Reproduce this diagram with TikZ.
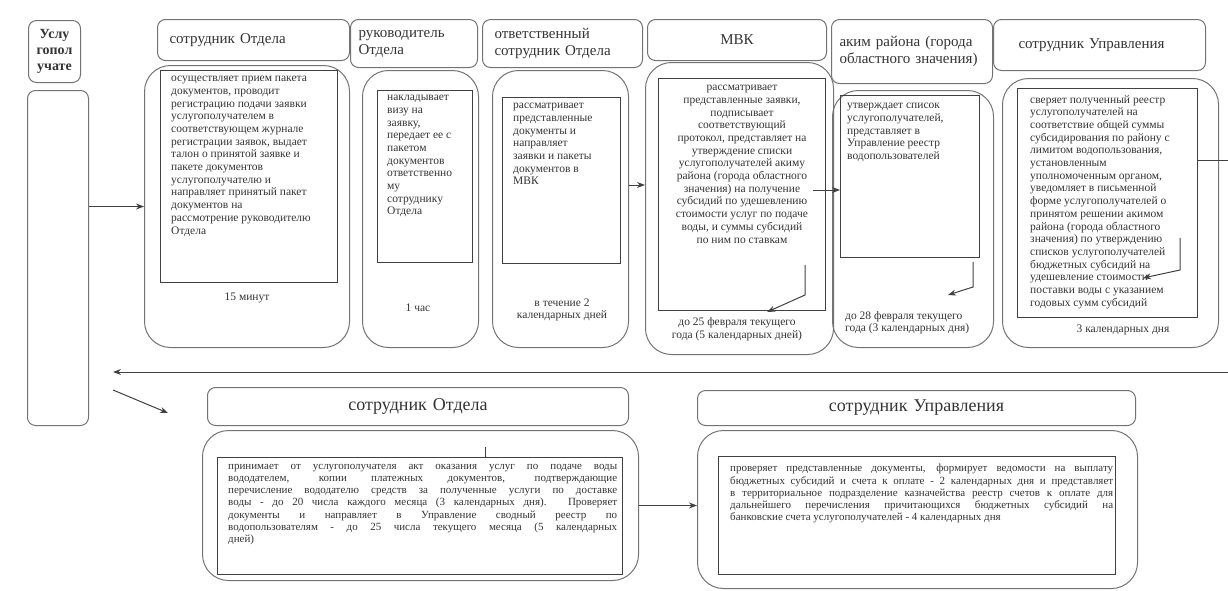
\documentclass[tikz,border=0pt]{standalone}
\usepackage{fontspec}
\setmainfont{Liberation Serif}
\usetikzlibrary{arrows.meta,calc,positioning}
\tikzset{
  >={Stealth[length=8pt,width=6pt]}
}

\begin{document}
\begin{tikzpicture}[x=1pt,y=-1pt,
        hdr/.style={draw=black!55,line width=1pt,rounded corners=8pt,anchor=north west,inner xsep=12pt,inner ysep=0pt,align=left,font=\fontsize{15}{17}\selectfont,text=black!80},
        lane/.style={draw=black!55,line width=1pt,rounded corners=26pt,anchor=north west,inner sep=0pt},
        cell/.style={draw=black!75,line width=1pt,anchor=north west,inner sep=0pt},
        body/.style={anchor=north west,align=left,inner sep=0pt,font=\fontsize{11.5}{12.7}\selectfont,text=black!80},
        term/.style={align=center,inner sep=0pt,font=\fontsize{11.5}{12.7}\selectfont,text=black!80},
        wide/.style={anchor=north west,align=justify,inner sep=0pt,font=\fontsize{11}{12.2}\selectfont,text=black!80},
        conn/.style={draw=black!75,line width=1pt}
      ]
      \useasboundingbox (0,0) rectangle (1228,590);
      % left lane
      \node (uhdr) [hdr,inner xsep=0pt,align=center,minimum width=52pt,minimum height=62pt,font=\fontsize{14}{16}\selectfont\bfseries] at (28,20) {Услу\\гопол\\учате};
      \node (ulane) [hdr,inner xsep=0pt,minimum width=61pt,minimum height=335pt] at (27,90) {};
      % headers
      \node (h1) [hdr,text width=168pt,minimum height=41pt] at (157,19) {сотрудник Отдела};
      \node (h2) [hdr,inner xsep=8pt,text width=111pt,minimum height=48pt] at (350,19) {руководитель\\Отдела};
      \node (h3) [hdr,text width=136pt,minimum height=48pt] at (482,19) {ответственный\\сотрудник Отдела};
      \node (h4) [hdr,align=center,text width=155pt,minimum height=41pt] at (647,19) {МВК};
      \node (h5) [hdr,inner xsep=8pt,text width=145pt,minimum height=64pt] at (831,19) {аким района (города\\областного значения)};
      \node (h6) [hdr,inner xsep=25pt,text width=162pt,minimum height=51pt] at (993,19) {сотрудник Управления};
      % lanes and cells
      \node (o1) [lane,minimum width=205pt,minimum height=282pt] at (144,65) {};
      \node (o2) [lane,minimum width=116pt,minimum height=277pt] at (362,70) {};
      \node (o3) [lane,minimum width=136pt,minimum height=277pt] at (492,70) {};
      \node (o4) [lane,minimum width=188pt,minimum height=292pt] at (645,62) {};
      \node (o5) [lane,minimum width=161pt,minimum height=257pt] at (832,90) {};
      \node (o6) [lane,minimum width=216pt,minimum height=269pt] at (1002,78) {};
      \node (i1) [cell,minimum width=177pt,minimum height=212pt] at (160,70) {};
      \node (i2) [cell,minimum width=95pt,minimum height=172pt] at (377,90) {};
      \node (i3) [cell,minimum width=118pt,minimum height=166pt] at (502,97) {};
      \node (i4) [cell,minimum width=167pt,minimum height=232pt] at (658,78) {};
      \node (i5) [cell,minimum width=139pt,minimum height=162pt] at (840,95) {};
      \node (i6) [cell,minimum width=180pt,minimum height=229pt] at (1017,88) {};
      % texts
      \node (t1) [body] at (171,76) {осуществляет прием пакета\\документов, проводит\\регистрацию подачи заявки\\услугополучателем в\\соответствующем журнале\\регистрации заявок, выдает\\талон о принятой заявке и\\пакете документов\\услугополучателю и\\направляет принятый пакет\\документов на\\рассмотрение руководителю\\Отдела};
      \node (t2) [body] at (387,95) {накладывает\\визу на\\заявку,\\передает ее с\\пакетом\\документов\\ответственно\\му\\сотруднику\\Отдела};
      \node (t3) [body] at (513,103) {рассматривает\\представленные\\документы и\\направляет\\заявки и пакеты\\документов в\\МВК};
      \node (t4) [body,anchor=north,align=center] at (742,85) {рассматривает\\представленные заявки,\\подписывает\\соответствующий\\протокол, представляет на\\утверждение списки\\услугополучателей акиму\\района (города областного\\значения) на получение\\субсидий по удешевлению\\стоимости услуг по подаче\\воды, и суммы субсидий\\по ним по ставкам};
      \node (t5) [body] at (847,103) {утверждает список\\услугополучателей,\\представляет в\\Управление реестр\\водопользователей};
      \node (t6) [body] at (1030,95) {сверяет полученный реестр\\услугополучателей на\\соответствие общей суммы\\субсидирования по району с\\лимитом водопользования,\\установленным\\уполномоченным органом,\\уведомляет в письменной\\форме услугополучателей о\\принятом решении акимом\\района (города областного\\значения) по утверждению\\списков услугополучателей\\бюджетных субсидий на\\удешевление стоимости\\поставки воды с указанием\\годовых сумм субсидий};
      \node (m1) [term] at (247,298) {15 минут};
      \node (m2) [term] at (418,308) {1 час};
      \node (m3) [term] at (562,310) {в течение 2\\календарных дней};
      \node (m4) [term] at (737,329) {до 25 февраля текущего\\года (5 календарных дней)};
      \node (m5) [term,anchor=north west,align=left] at (845,311) {до 28 февраля текущего\\года (3 календарных дня)};
      \node (m6) [term] at (1123,330) {3 календарных дня};
      % bottom row
      \node (bh1) [hdr,align=center,text width=397pt,minimum height=38pt,font=\fontsize{18}{20}\selectfont] at (207,387) {сотрудник Отдела};
      \node (bo1) [lane,minimum width=436pt,minimum height=150pt] at (202,430) {};
      \node (bi1) [cell,minimum width=405pt,minimum height=117pt] at (217,457) {};
      \node (bt1) [wide,text width=389pt] at (228,464) {принимает от услугополучателя акт оказания услуг по подаче воды\linebreak вододателем, копии платежных документов, подтверждающие\linebreak перечисление вододателю средств за полученные услуги по доставке\linebreak воды - до 20 числа каждого месяца (3 календарных дня). Проверяет\linebreak документы и направляет в Управление сводный реестр по\linebreak водопользователям - до 25 числа текущего месяца (5 календарных\linebreak дней)};
      \node (bh2) [hdr,align=center,text width=414pt,minimum height=35pt,font=\fontsize{18}{20}\selectfont] at (697,390) {сотрудник Управления};
      \node (bo2) [lane,minimum width=440pt,minimum height=158pt] at (697,430) {};
      \node (bi2) [cell,minimum width=397pt,minimum height=118pt] at (718,456) {};
      \node (bt2) [wide,text width=383pt] at (730,464) {проверяет представленные документы, формирует ведомости на выплату\linebreak бюджетных субсидий и счета к оплате - 2 календарных дня и представляет\linebreak в территориальное подразделение казначейства реестр счетов к оплате для\linebreak дальнейшего перечисления причитающихся бюджетных субсидий на\linebreak банковские счета услугополучателей - 4 календарных дня};
      % connectors
      \coordinate (k4) at (813,190);
      \coordinate (d4) at (805,265);
      \coordinate (d5) at (973,262);
      \coordinate (d6) at (1180,238);
      \coordinate (e6) at (1228,160);
      \coordinate (rs) at (1228,372);
      \coordinate (re) at (113,372);
      \coordinate (gs) at (113,390);
      \coordinate (ge) at (168,413);
      \coordinate (tk) at (485,447);
      \draw[conn,->] (ulane.east |- o1.west) -- (o1.west);
      \draw[conn,->] (o3.east |- 0,185) -- (o4.west |- 0,185);
      \draw[conn,->] (k4) -- (i5.west |- k4);
      \draw[conn,->] (d4) -- ++(0,30) -- ++(-38,17);
      \draw[conn,->] (d5) -- ++(0,25) -- ++(-25,8);
      \draw[conn,->] (d6) -- ++(0,32) -- ++(-37,8);
      \draw[conn] (i6.east |- e6) -- (e6);
      \draw[conn,->] (rs) -- (re);
      \draw[conn,->] (gs) -- (ge);
      \draw[conn,->] (bo1.east) -- (bo2.west |- bo1.east);
      \draw[conn] (tk) -- (tk |- bi1.north);
    \end{tikzpicture}
\end{document}
